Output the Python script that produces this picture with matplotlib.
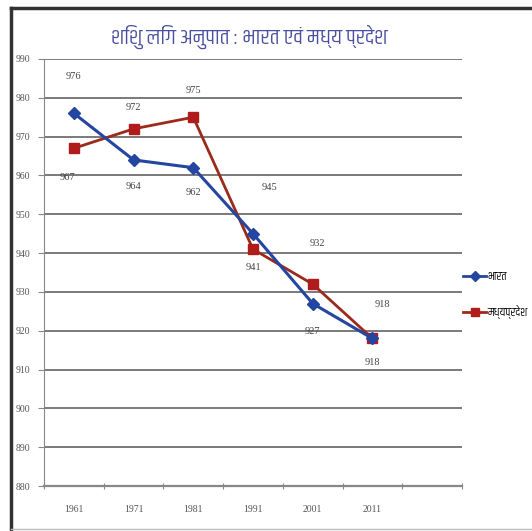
import matplotlib
matplotlib.use("Agg")
import matplotlib.pyplot as plt
from matplotlib.lines import Line2D

# ---- data ----
years = ["1961", "1971", "1981", "1991", "2001", "2011"]
india = [976, 964, 962, 945, 927, 918]
mp = [967, 972, 975, 941, 932, 918]
series_names = ["भारत", "मध्यप्रदेश"]
title = "शिशु लिंग अनुपात : भारत एवं मध्य प्रदेश"
yticks = list(range(880, 1000, 10))

# ---- label offsets (layout) ----
india_off = [(0, 9.6), (0, -6.9), (0, -6.5), (0.27, 11.8), (0, -7.3), (0, -6.3)]
mp_off = [(-0.1, -7.6), (0, 5.6), (0, 7.0), (0, -4.8), (0.08, 10.4), (0.17, 8.7)]

hfam = ["Khand", "Noto Sans Devanagari", "DejaVu Sans"]
num_font = "Liberation Serif"

fig = plt.figure(figsize=(5.32, 5.31), dpi=100)
W, H = 532, 531
ax = fig.add_axes([44 / W, 1 - 486 / H, (462 - 44) / W, (486 - 59) / H])

x = list(range(len(years)))
blue = "#2446a0"
red = "#b01c1c"
ax.plot(x, india, color=blue, lw=2.2, marker="D", ms=6, mfc=blue, mec=blue, zorder=4)
ax.plot(x, mp, color="#9c2a1a", lw=2.0, marker="s", ms=7, mfc=red, mec=red, zorder=3)

for i, v in enumerate(india):
    dx, dy = india_off[i]
    ax.text(i + dx, v + dy, str(v), ha="center", va="center", fontsize=7.5,
            family=num_font, color="#444444")
for i, v in enumerate(mp):
    dx, dy = mp_off[i]
    ax.text(i + dx, v + dy, str(v), ha="center", va="center", fontsize=7.5,
            family=num_font, color="#444444")

ax.set_xlim(-0.5, 6.5)
ax.set_ylim(880, 990)
ax.set_yticks(yticks)
ax.set_yticklabels([str(t) for t in yticks], family=num_font, fontsize=7, color="#555555")
ax.yaxis.grid(True, color="#7a7a7a", lw=1.4)
ax.set_axisbelow(True)
ax.tick_params(axis="y", length=4, color="#888888", pad=6, direction="out")

ax.set_xticks([i - 0.5 for i in range(8)])
ax.set_xticklabels([])
ax.tick_params(axis="x", which="major", length=5, direction="inout", color="#888888")
ax.set_xticks(x, minor=True)
ax.set_xticklabels(years, minor=True, family=num_font, fontsize=7, color="#555555")
ax.tick_params(axis="x", which="minor", length=0, pad=14)

for s in ["top", "right"]:
    ax.spines[s].set_visible(False)
ax.spines["left"].set_color("#888888")
ax.spines["bottom"].set_color("#888888")
ax.spines["bottom"].set_linewidth(1.6)

fig.text(249 / W, 1 - 37 / H, title, ha="center", va="center", fontsize=16,
         color="#4a4fa0", family=hfam)

handles = [Line2D([], [], color=blue, lw=2, marker="D", ms=5),
           Line2D([], [], color="#9c2a1a", lw=2, marker="s", ms=6, mfc=red, mec=red)]
fig.legend(handles, series_names, loc="center left", bbox_to_anchor=(458 / W, 1 - 295 / H),
           frameon=False, prop={"family": hfam, "size": 8.5}, handlelength=2.0,
           handletextpad=0.1, labelspacing=1.9, borderaxespad=0)

# outer frame
fig.add_artist(Line2D([11 / W, 11 / W], [0, 1 - 8 / H], transform=fig.transFigure,
                      color="#333333", lw=2.5))
fig.add_artist(Line2D([11 / W, 1], [1 - 8 / H, 1 - 8 / H], transform=fig.transFigure,
                      color="#333333", lw=2.5))
fig.add_artist(Line2D([11 / W, 1], [2.5 / H, 2.5 / H], transform=fig.transFigure,
                      color="#bbbbbb", lw=1))

fig.savefig("out.png", dpi=100)
